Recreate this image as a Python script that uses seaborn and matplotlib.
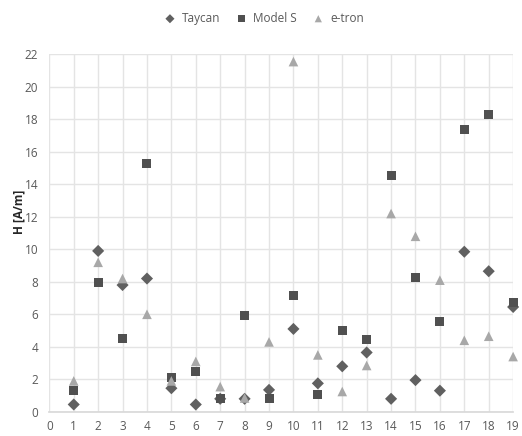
import matplotlib
matplotlib.use("Agg")
import matplotlib.pyplot as plt
import seaborn as sns
import pandas as pd

x_vals = list(range(1, 20))
taycan = [0.45, 9.9, 7.8, 8.2, 1.45, 0.45, 0.8, 0.8, 1.35, 5.1, 1.75, 2.8, 3.65, 0.8, 1.95, 1.3, 9.85, 8.65, 6.45]
model_s = [1.3, 7.95, 4.5, 15.25, 2.1, 2.45, 0.8, 5.95, 0.8, 7.15, 1.05, 5.0, 4.45, 14.55, 8.25, 5.55, 17.35, 18.3, 6.75]
etron = [1.9, 9.2, 8.2, 6.0, 1.9, 3.1, 1.55, 0.85, 4.3, 21.55, 3.5, 1.25, 2.85, 12.2, 10.8, 8.1, 4.4, 4.65, 3.4]
series_names = ["Taycan", "Model S", "e-tron"]
y_ticks = list(range(0, 23, 2))
x_ticks = list(range(0, 20))
y_label = "H [A/m]"

df = pd.concat([
    pd.DataFrame({"x": x_vals, "H": taycan, "series": "Taycan"}),
    pd.DataFrame({"x": x_vals, "H": model_s, "series": "Model S"}),
    pd.DataFrame({"x": x_vals, "H": etron, "series": "e-tron"}),
])

sns.set_theme(style="white")
plt.rcParams['font.family'] = ['Open Sans', 'DejaVu Sans']

fig = plt.figure(figsize=(5.22, 4.36), dpi=100)
ax = fig.add_axes([0.0945, 0.0555, 0.8885, 0.82])

palette = {"Taycan": "#606060", "Model S": "#505050", "e-tron": "#a8a8a8"}
markers = {"Taycan": "D", "Model S": "s", "e-tron": "^"}
sizes = {"Taycan": 38, "Model S": 42, "e-tron": 48}

for name in series_names:
    sub = df[df["series"] == name]
    sns.scatterplot(data=sub, x="x", y="H", color=palette[name], marker=markers[name],
                    s=sizes[name], edgecolor="none", ax=ax, label=name, clip_on=False, zorder=3)

ax.set_xlim(0, 19)
ax.set_ylim(0, 22)
ax.set_xticks(x_ticks)
ax.set_yticks(y_ticks)
ax.grid(True, color="#e4e4e4", linewidth=1.0)
ax.set_axisbelow(True)
for s in ["top", "right", "left"]:
    ax.spines[s].set_visible(False)
ax.spines["bottom"].set_color("#d9d9d9")
ax.tick_params(axis="both", length=0, labelsize=8.5, colors="#595959")
ax.tick_params(axis="x", pad=6)
ax.tick_params(axis="y", pad=8)
ax.set_xlabel("")
ax.set_ylabel(y_label, fontsize=8.5, fontweight="bold", color="#262626")
ax.yaxis.set_label_coords(-0.052, 0.56)

if ax.legend_:
    ax.legend_.remove()
handles, labels = ax.get_legend_handles_labels()
fig.legend(handles, labels, loc="center", bbox_to_anchor=(0.5, 0.958), ncol=3, frameon=False,
           fontsize=8.5, handletextpad=0.0, columnspacing=0.8, markerscale=0.75,
           labelcolor="#595959")

fig.savefig("out.png", dpi=100)
